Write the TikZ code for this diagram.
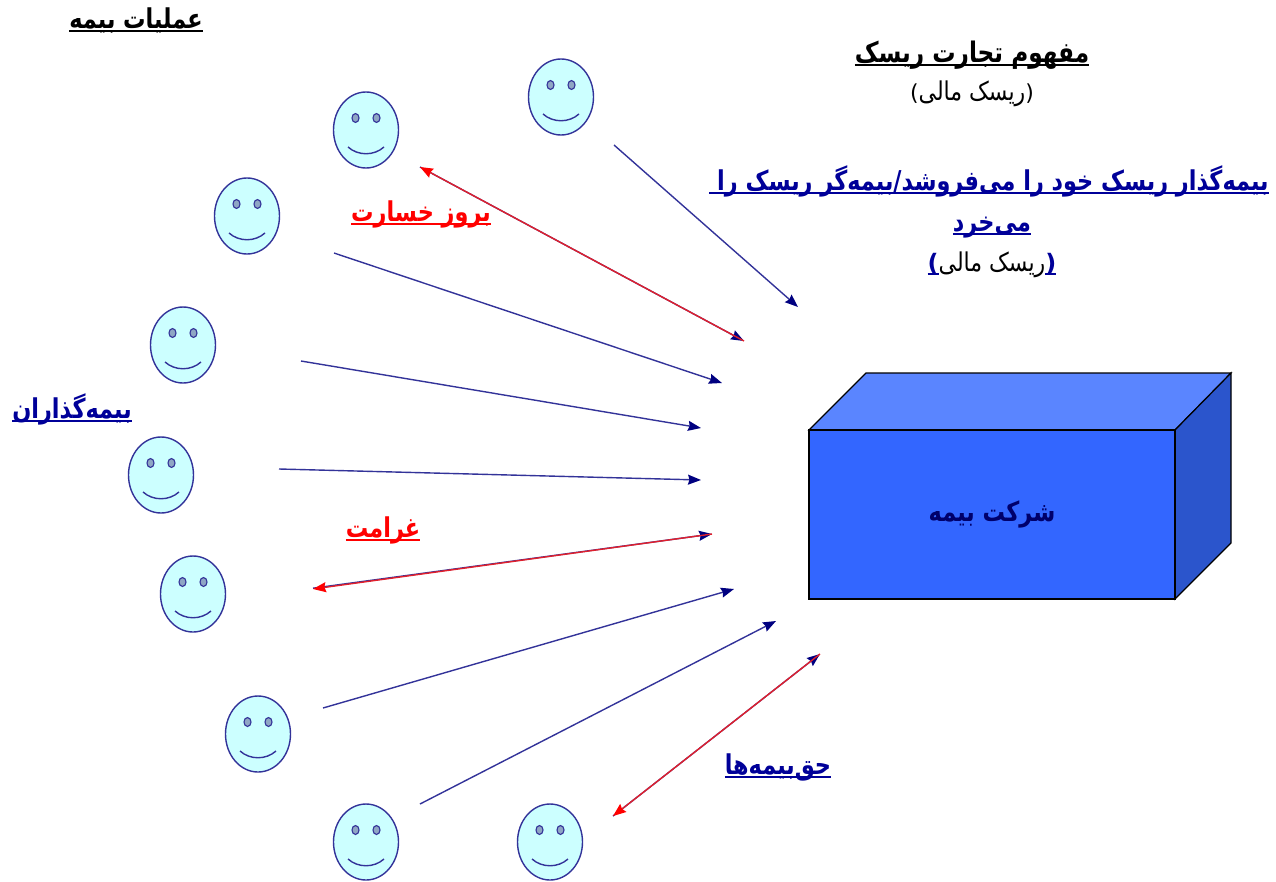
\documentclass[tikz,border=0pt]{standalone}
\usepackage{fontspec}
\usetikzlibrary{shapes.geometric,arrows.meta}
\TeXXeTstate=1
\newfontfamily\fa[Script=Arabic,FakeStretch=0.85]{DejaVu Sans}
\newfontfamily\fab[Script=Arabic,FakeStretch=0.82]{DejaVu Sans Bold}
\newfontfamily\lat{DejaVu Sans}
\newfontfamily\latb{DejaVu Sans Bold}
\definecolor{navy}{HTML}{000099}
\definecolor{headnavy}{HTML}{000080}
\definecolor{linkblue}{HTML}{333399}
\definecolor{redc}{HTML}{E0202C}
\definecolor{boxfront}{HTML}{3366FF}
\definecolor{boxtop}{HTML}{5A85FF}
\definecolor{boxside}{HTML}{2B55CC}
\definecolor{facefill}{HTML}{CCFFFF}
\definecolor{eyefill}{HTML}{8FA6C4}
\newcommand{\ulfa}[1]{\setbox0=\hbox{\beginR #1\endR}\leavevmode\rlap{\rule[-3.6pt]{\wd0}{1.3pt}}\box0 }
\newcommand{\ulltr}[1]{\setbox0=\hbox{#1}\leavevmode\rlap{\rule[-3.6pt]{\wd0}{1.3pt}}\box0 }
\tikzset{
  x=1pt,y=-1pt,
  face/.style={draw=linkblue,fill=facefill,line width=1.4pt,ellipse,minimum width=65pt,minimum height=76pt,inner sep=0pt},
  eye/.style={draw=linkblue,fill=eyefill,line width=1.1pt,ellipse,minimum width=7pt,minimum height=9pt,inner sep=0pt},
  blueline/.style={draw=linkblue,line width=1.4pt,-{Stealth[length=13pt,width=10pt,inset=1.5pt,color=headnavy]}},
  redline/.style={draw=redc,line width=1.4pt},
  redhead/.style={-{Stealth[length=13pt,width=10pt,inset=1.5pt,color=red]}},
  label/.style={inner sep=0pt,anchor=base,font=\fab\fontsize{27.3}{30}\selectfont},
  plain/.style={inner sep=0pt,anchor=base,font=\fa\fontsize{25.9}{30}\selectfont}
}
\newcommand{\smiley}[3]{%
  \node[face] (#1) at (#2,#3) {};
  \node[eye] (#1l) at ([shift={(-10.5,-12)}]#1.center) {};
  \node[eye] (#1r) at ([shift={(10.5,-12)}]#1.center) {};
  \coordinate (#1a) at ([shift={(-18,17)}]#1.center);
  \coordinate (#1b) at ([shift={(18,17)}]#1.center);
  \draw[linkblue,line width=1.4pt] (#1a) .. controls ([shift={(10,9)}]#1a) and ([shift={(-10,9)}]#1b) .. (#1b);
}
\begin{document}
\begin{tikzpicture}
\useasboundingbox (0,0) rectangle (1276,881);
% box
\coordinate (fa) at (809,430);
\coordinate (fb) at (1175,430);
\coordinate (fc) at (1175,599);
\coordinate (fd) at (809,599);
\coordinate (ta) at (866,373);
\coordinate (tb) at (1231,373);
\coordinate (sc) at (1231,543);
\draw[fill=boxtop,line width=1.2pt] (fa) -- (ta) -- (tb) -- (fb) -- cycle;
\draw[fill=boxside,line width=1.2pt] (fb) -- (tb) -- (sc) -- (fc) -- cycle;
\draw[fill=boxfront,line width=1.2pt] (fa) -- (fb) -- (fc) -- (fd) -- cycle;
\node[label,text=navy!70!black] (company) at (992,521) {\beginR شرکت بیمه\endR};
% faces
\smiley{f1}{561}{97}
\smiley{f2}{366}{130}
\smiley{f3}{247}{216}
\smiley{f4}{183}{345}
\smiley{f5}{161}{475}
\smiley{f6}{193}{594}
\smiley{f7}{258}{734}
\smiley{f8}{366}{842}
\smiley{f9}{550}{842}
% arrow ends
\foreach \n/\x/\y in {s1/614/145,e1/798/307,s2/334/253,e2/722/383,s3/301/361,e3/701/428,s4/279/469,e4/701/480,
  s5/323/708,e5/734/589,s6/420/804,e6/776/621,r1a/420/167,r1b/744/341,r2a/313/589,r2b/712/534,r3a/613/816,r3b/820/654}
  {\coordinate (\n) at (\x,\y);}
\draw[blueline] (s1) -- (e1);
\draw[blueline] (s2) -- (e2);
\draw[blueline] (s3) -- (e3);
\draw[blueline] (s4) -- (e4);
\draw[blueline] (s5) -- (e5);
\draw[blueline] (s6) -- (e6);
\draw[blueline] (r1a) -- (r1b);
\draw[redline,redhead] (r1b) -- (r1a);
\draw[blueline] ([yshift=.8pt]r2a) -- (r2b);
\draw[redline,redhead] (r2b) -- (r2a);
\draw[blueline] (r3a) -- (r3b);
\draw[redline,redhead] (r3b) -- (r3a);
% texts
\node[label,text=black] (t0) at (136,28) {\ulfa{عملیات بیمه}};
\node[label,text=black,font=\fab\fontsize{28.3}{30}\selectfont] (t1) at (972,62) {\ulfa{مفهوم تجارت ریسک}};
\node[plain] (t2) at (972,100) {{\lat\fontsize{22}{26}\selectfont(}\beginR ریسک مالی\endR{\lat\fontsize{22}{26}\selectfont)}};
\node[label,text=navy] (t3) at (989,190) {\ulfa{بیمه‌گذار ریسک خود را می‌فروشد/بیمه‌گر ریسک را\ }};
\node[label,text=navy] (t4) at (992,231) {\ulfa{می‌خرد}};
\node[plain] (t5) at (992,271) {\textcolor{navy}{\latb\fontsize{24}{26}\selectfont\ulltr{(}}\beginR ریسک مالی\endR\textcolor{navy}{\latb\fontsize{24}{26}\selectfont\ulltr{)}}};
\node[label,text=red] (t6) at (421,221) {\ulfa{بروز خسارت}};
\node[label,text=red] (t7) at (383,537) {\ulfa{غرامت}};
\node[label,text=navy] (t8) at (72,418) {\ulfa{بیمه‌گذاران}};
\node[label,text=navy] (t9) at (778,774) {\ulfa{حق‌بیمه‌ها}};
\end{tikzpicture}
\end{document}
